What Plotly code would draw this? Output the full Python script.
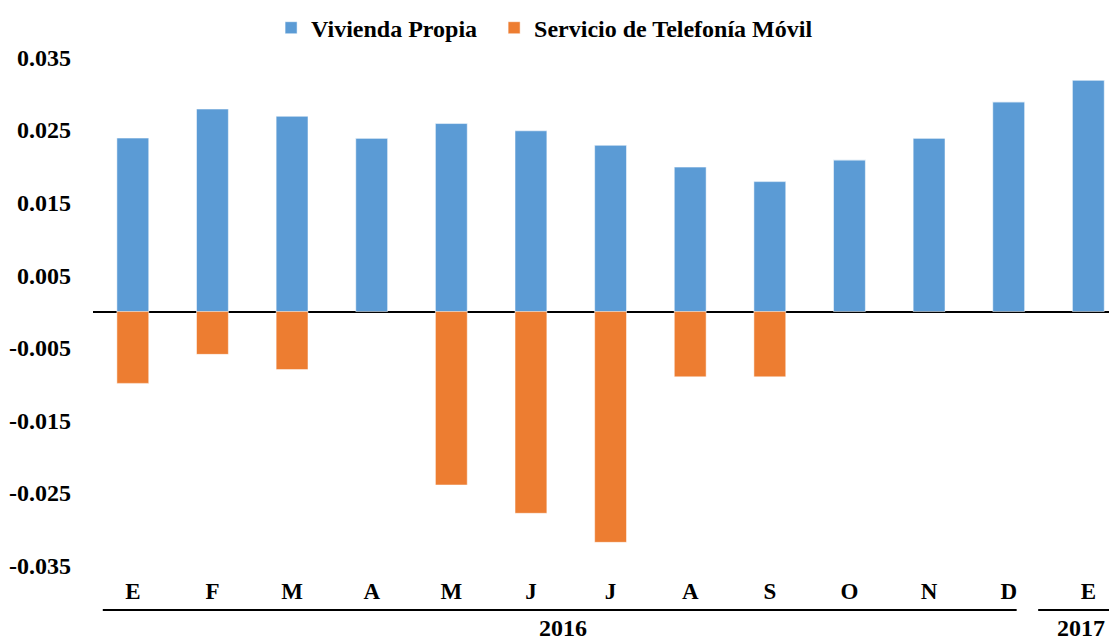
import plotly.graph_objects as go

months = ["E", "F", "M", "A", "M", "J", "J", "A", "S", "O", "N", "D", "E"]
vivienda = [0.0239, 0.0279, 0.0269, 0.0239, 0.0259, 0.0249, 0.0229, 0.0199, 0.0179, 0.0209, 0.0239, 0.0289, 0.0319]
telefonia = [-0.0099, -0.0059, -0.0080, 0.0, -0.0239, -0.0278, -0.0318, -0.0090, -0.0090, 0.0, 0.0, 0.0, 0.0]
ytick_vals = [0.035, 0.025, 0.015, 0.005, -0.005, -0.015, -0.025, -0.035]
ytick_text = ["0.035", "0.025", "0.015", "0.005", "-0.005", "-0.015", "-0.025", "-0.035"]
years = ["2016", "2017"]

FONT = "Liberation Serif"
xpos = list(range(len(months)))

fig = go.Figure()
fig.add_trace(go.Bar(x=xpos, y=vivienda, name="<b>Vivienda Propia</b>&nbsp;&nbsp;", width=0.4,
                     marker=dict(color="#5B9BD5", line=dict(color="rgba(255,255,255,0.5)", width=1))))
fig.add_trace(go.Bar(x=xpos, y=telefonia, name="<b>Servicio de Telefonía Móvil</b>", width=0.4,
                     marker=dict(color="#ED7D31", line=dict(color="rgba(255,255,255,0.5)", width=1))))

fig.update_layout(
    width=1109, height=633,
    margin=dict(l=85, r=0, t=35, b=66, pad=0, autoexpand=False),
    barmode="relative",
    plot_bgcolor="white", paper_bgcolor="white",
    font=dict(family=FONT, size=24, color="black"),
    showlegend=True,
    legend=dict(orientation="h", x=0.441, xanchor="center", y=1.028, yanchor="middle",
                font=dict(family=FONT, size=24, color="black"), traceorder="normal",
                itemwidth=30, bgcolor="rgba(0,0,0,0)"),
    xaxis=dict(range=[-0.5, 12.36], tickmode="array", tickvals=xpos,
               ticktext=["<b>%s</b>" % m for m in months], showgrid=False, zeroline=False,
               showline=False, ticks="", tickfont=dict(family=FONT, size=23, color="black")),
    yaxis=dict(range=[-0.0363, 0.037], tickmode="array", tickvals=ytick_vals,
               ticktext=["<b>%s</b>" % t for t in ytick_text], showgrid=False,
               zeroline=True, zerolinecolor="black", zerolinewidth=2, showline=False,
               ticks="", ticklabelstandoff=21, tickfont=dict(family=FONT, size=24, color="black")),
)

# group underline lines
fig.add_shape(type="line", xref="x", yref="paper", x0=-0.377, x1=11.1, y0=-0.0658, y1=-0.0658,
              line=dict(color="black", width=2))
fig.add_shape(type="line", xref="x", yref="paper", x0=11.37, x1=12.36, y0=-0.0658, y1=-0.0658,
              line=dict(color="black", width=2))

fig.add_annotation(x=5.4, y=-0.0995, xref="x", yref="paper", text="<b>%s</b>" % years[0],
                   showarrow=False, font=dict(family=FONT, size=24, color="black"), yanchor="middle")
fig.add_annotation(x=11.91, y=-0.0995, xref="x", yref="paper", text="<b>%s</b>" % years[1],
                   showarrow=False, font=dict(family=FONT, size=24, color="black"), yanchor="middle")

fig.write_html("out.html")
